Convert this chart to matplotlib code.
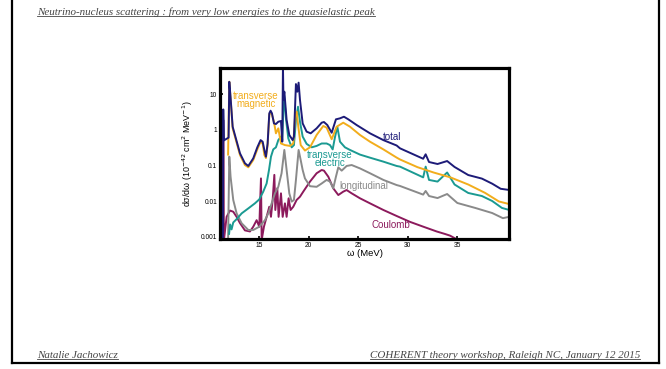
import matplotlib
matplotlib.use('Agg')
import matplotlib.pyplot as plt
from matplotlib.lines import Line2D
from matplotlib.ticker import FixedLocator, NullLocator

# omega (MeV) and d sigma / d omega (1e-42 cm^2 MeV^-1) for each response
total_e = [11.33, 11.36, 11.42, 11.9, 11.97, 12.1, 12.31, 13.05, 13.55, 13.89, 14.39, 14.8,
           15.13, 15.34, 15.51, 15.67, 15.84, 16.01, 16.14, 16.28, 16.48, 16.68, 16.92, 17.19,
           17.32, 17.39, 17.44, 17.53, 17.76, 18.03, 18.37, 18.5, 18.7, 18.84, 18.97, 19.11,
           19.38, 19.78, 20.19, 20.79, 21.3, 21.53, 21.87, 22.31, 22.74, 23.15, 23.55, 23.99,
           24.83, 26.18, 27.53, 28.87, 29.21, 31.55, 31.8, 32.14, 33.0, 33.97, 34.72, 36.1,
           37.48, 38.52, 39.38, 40.24]
total_xs = [0.0008, 3.7, 0.5, 0.6, 22, 8, 1.21, 0.217, 0.114, 0.096, 0.157, 0.32,
            0.51, 0.46, 0.27, 0.175, 0.41, 2.87, 3.4, 2.87, 1.5, 1.44, 1.67, 1.75,
            0.46, 60, 6.8, 11.6, 1.87, 0.71, 0.51, 0.64, 19, 11.6, 20.8, 6.8,
            1.5, 0.88, 0.79, 1.09, 1.57, 1.64, 1.35, 0.82, 1.95, 2.08, 2.31, 1.95,
            1.35, 0.79, 0.51, 0.36, 0.3, 0.153, 0.204, 0.124, 0.109, 0.132, 0.09, 0.0535,
            0.0425, 0.0306, 0.022, 0.0204]

magnetic_e = [11.85, 11.97, 12.1, 12.31, 13.05, 13.55, 13.89, 14.39, 14.8, 15.13, 15.34,
              15.51, 15.67, 15.84, 16.01, 16.14, 16.28, 16.48, 16.68, 16.92, 17.19, 17.59,
              18.1, 18.43, 18.64, 18.77, 18.94, 19.18, 19.61, 20.12, 20.79, 21.46, 21.8,
              22.31, 22.81, 23.48, 24.16, 25.17, 26.18, 27.53, 28.87, 29.21, 30.97, 32.6,
              34.3, 36.1, 37.8, 39.2, 40.24]
magnetic_xs = [0.2, 22, 7.5, 1.09, 0.195, 0.102, 0.088, 0.141, 0.28, 0.46, 0.41,
               0.195, 0.16, 0.37, 2.6, 3.2, 2.6, 1.67, 0.79, 1.09, 0.41, 0.37,
               0.35, 0.41, 2.87, 3.2, 1.21, 0.37, 0.26, 0.32, 0.71, 1.27, 1.14,
               0.54, 1.21, 1.57, 1.21, 0.71, 0.46, 0.28, 0.165, 0.146, 0.089, 0.063,
               0.046, 0.029, 0.0169, 0.0097, 0.0082]

electric_e = [11.95, 12.05, 12.2, 12.37, 12.71, 13.22, 13.89, 14.56, 15.0, 15.4, 15.74,
              15.98, 16.18, 16.41, 16.68, 16.92, 17.19, 17.32, 17.49, 17.69, 17.93, 18.27,
              18.5, 18.7, 18.91, 19.11, 19.38, 19.78, 20.29, 20.79, 21.3, 21.8, 22.14,
              22.41, 22.64, 22.88, 23.15, 23.65, 24.16, 25.17, 26.18, 27.53, 28.87, 29.21,
              31.55, 31.8, 32.14, 33.0, 33.97, 34.72, 36.1, 37.48, 38.52, 39.5, 40.24]
electric_xs = [0.0012, 0.0022, 0.0016, 0.0025, 0.0031, 0.0045, 0.0062, 0.0086, 0.0111, 0.0183,
               0.031, 0.074, 0.175, 0.28, 0.32, 0.51, 0.64, 0.51, 10.4, 2.08, 0.57, 0.32,
               0.37, 1.87, 4.4, 1.67, 0.64, 0.4, 0.32, 0.35, 0.41, 0.41, 0.37,
               0.28, 0.61, 1.21, 0.46, 0.32, 0.27, 0.2, 0.164, 0.127, 0.096, 0.092,
               0.046, 0.092, 0.039, 0.035, 0.063, 0.029, 0.0168, 0.0138, 0.01, 0.0064, 0.0056]

long_e = [11.85, 11.97, 12.1, 12.37, 12.71, 13.22, 13.89, 14.39, 15.0, 15.57, 15.91, 16.25,
          16.58, 16.92, 17.25, 17.53, 17.76, 18.03, 18.27, 18.5, 18.7, 18.97, 19.18, 19.38,
          19.61, 20.12, 20.79, 21.3, 21.8, 22.14, 22.47, 22.74, 22.98, 23.32, 23.82, 24.33,
          25.17, 26.18, 27.53, 28.87, 29.21, 31.55, 31.8, 32.14, 33.0, 33.97, 35.0, 36.8,
          38.52, 39.6, 40.24]
long_xs = [0.0008, 0.175, 0.048, 0.0107, 0.0045, 0.00237, 0.00154, 0.00154, 0.0019, 0.0029,
           0.0045, 0.0086, 0.0164, 0.025, 0.06, 0.27, 0.074, 0.0164, 0.0096, 0.0107, 0.039,
           0.27, 0.141, 0.074, 0.043, 0.026, 0.025, 0.031, 0.039, 0.035, 0.0227, 0.048,
           0.088, 0.071, 0.096, 0.102, 0.082, 0.06, 0.039, 0.028, 0.0264, 0.0151, 0.0191,
           0.0138, 0.0121, 0.0157, 0.0088, 0.0064, 0.0046, 0.0033, 0.0036]

coulomb_e = [11.33, 11.36, 11.43, 11.7, 12.04, 12.37, 12.71, 13.05, 13.55, 14.06, 14.39,
             14.73, 15.0, 15.17, 15.24, 15.47, 15.74, 16.01, 16.18, 16.35, 16.52, 16.62,
             16.82, 16.95, 17.19, 17.36, 17.59, 17.76, 17.96, 18.16, 18.43, 18.77, 19.11,
             19.44, 20.12, 20.79, 21.3, 21.53, 21.97, 22.47, 22.98, 23.48, 23.82, 24.33,
             25.17, 26.18, 27.53, 28.87, 30.22, 31.57, 32.91, 33.75, 34.26, 35.1]
coulomb_xs = [0.0008, 1.87, 0.0008, 0.0036, 0.0054, 0.005, 0.0036, 0.0024, 0.0015, 0.0014,
              0.0019, 0.0029, 0.0019, 0.043, 0.0008, 0.0019, 0.0036, 0.0069, 0.0036, 0.0107,
              0.054, 0.0056, 0.0227, 0.0036, 0.0164, 0.0036, 0.0086, 0.0036, 0.0119, 0.0056,
              0.0069, 0.0107, 0.0132, 0.0183, 0.035, 0.06, 0.074, 0.071, 0.048, 0.0227,
              0.0147, 0.0183, 0.0203, 0.0164, 0.0119, 0.0086, 0.0056, 0.0038, 0.0026, 0.0019,
              0.0014, 0.00119, 0.00107, 0.0008]

x_ticks = [15, 20, 25, 30, 35]
y_ticks = [0.001, 0.01, 0.1, 1, 10]
y_tick_labels = ['0.001', '0.01', '0.1', '1', '10']

c_total = '#1d1b78'
c_mag = '#f2ad1c'
c_el = '#1b9a92'
c_long = '#8a8a8a'
c_coul = '#8c1a5c'

plt.rcParams['font.family'] = ['Liberation Sans', 'DejaVu Sans']

fig = plt.figure(figsize=(6.66, 3.69), dpi=100)
ax = fig.add_axes([0.3303, 0.3523, 0.434, 0.4634])

lw = 1.4
ax.plot(coulomb_e, coulomb_xs, color=c_coul, lw=lw)
ax.plot(long_e, long_xs, color=c_long, lw=lw)
ax.plot(electric_e, electric_xs, color=c_el, lw=lw)
ax.plot(magnetic_e, magnetic_xs, color=c_mag, lw=lw)
ax.plot(total_e, total_xs, color=c_total, lw=lw)

ax.set_yscale('log')
ax.set_xlim(11.03, 40.22)
ax.set_ylim(0.00086, 53.6)
ax.xaxis.set_major_locator(FixedLocator(x_ticks))
ax.yaxis.set_major_locator(FixedLocator(y_ticks))
ax.yaxis.set_minor_locator(NullLocator())
ax.set_yticklabels(y_tick_labels)
ax.tick_params(direction='in', length=2, width=1.2, labelsize=4.8, pad=2)
for s in ax.spines.values():
    s.set_linewidth(2.3)

ax.set_xlabel('ω (MeV)', fontsize=6.8, labelpad=0)
ax.set_ylabel('dσ/dω (10$^{-42}$ cm$^2$ MeV$^{-1}$)', fontsize=6.4, labelpad=4)

# curve labels
fs = 7
ax.text(14.66, 6.8, 'transverse\nmagnetic', color=c_mag, fontsize=fs, ha='center', va='center', linespacing=0.8)
ax.text(28.4, 0.62, 'total', color=c_total, fontsize=fs, ha='center', va='center')
ax.text(22.1, 0.15, 'transverse\nelectric', color=c_el, fontsize=fs, ha='center', va='center', linespacing=0.8)
ax.text(25.57, 0.0264, 'longitudinal', color=c_long, fontsize=fs, ha='center', va='center')
ax.text(28.3, 0.00212, 'Coulomb', color=c_coul, fontsize=fs, ha='center', va='center')

# slide frame
W, H = 666, 369
def fx(px):
    return px / W
def fy(py):
    return 1 - py / H
fig.add_artist(Line2D([fx(12), fx(12)], [fy(0), fy(363)], color='black', lw=1.6))
fig.add_artist(Line2D([fx(659), fx(659)], [fy(0), fy(363)], color='black', lw=1.6))
fig.add_artist(Line2D([fx(12), fx(659)], [fy(363), fy(363)], color='black', lw=1.6))

serif = ['Liberation Serif', 'DejaVu Serif']
title = fig.text(fx(37), fy(12), 'Neutrino-nucleus scattering : from very low energies to the quasielastic peak',
                 fontsize=7.9, style='italic', family=serif, color='#444444', va='center', ha='left')
foot_l = fig.text(fx(37), fy(355), 'Natalie Jachowicz', fontsize=7.9, style='italic',
                  family=serif, color='#444444', va='center', ha='left')
foot_r = fig.text(fx(640), fy(355), 'COHERENT theory workshop, Raleigh NC, January 12 2015', fontsize=7.9,
                  style='italic', family=serif, color='#444444', va='center', ha='right')

# underline the slide texts
fig.canvas.draw()
r = fig.canvas.get_renderer()
for t in (title, foot_l, foot_r):
    bb = t.get_window_extent(r)
    y0 = (bb.y0 + 0.5) / fig.bbox.height
    fig.add_artist(Line2D([bb.x0 / fig.bbox.width, bb.x1 / fig.bbox.width], [y0, y0],
                          color='#444444', lw=0.6))

fig.savefig('out.png', dpi=100)
